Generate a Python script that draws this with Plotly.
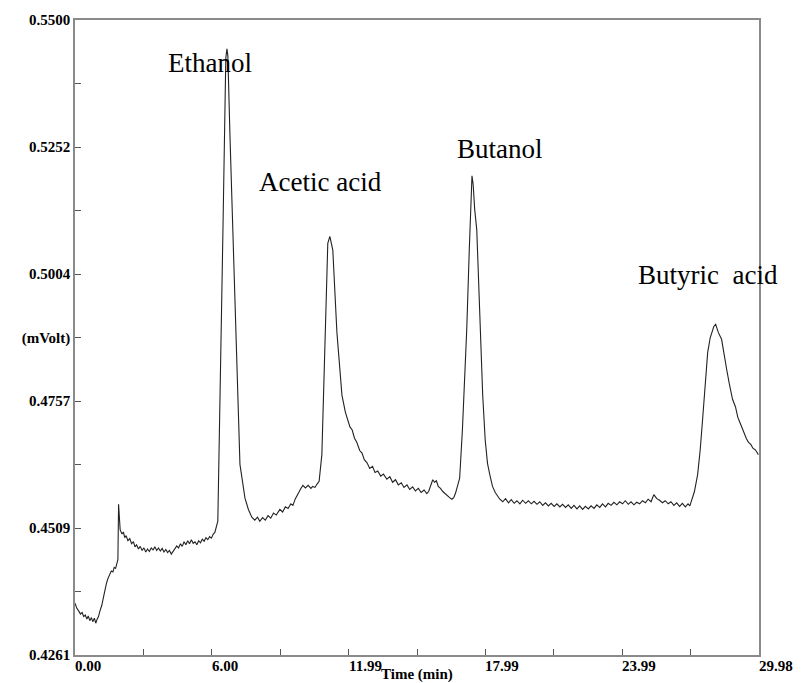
import plotly.graph_objects as go

# ---- data (time in min, signal in mVolt) ----
time_min = [
    0.00, 0.08, 0.16, 0.24, 0.31, 0.38, 0.45, 0.52, 0.58, 0.65, 0.72, 0.78, 0.85, 0.91, 0.97,
    1.03, 1.10, 1.17, 1.24, 1.31, 1.38, 1.45, 1.52, 1.59, 1.66, 1.72, 1.78, 1.84, 1.88, 1.91,
    1.94, 1.98, 2.06, 2.12, 2.18, 2.24, 2.32, 2.40, 2.48, 2.56, 2.63, 2.70, 2.78, 2.86, 2.94,
    3.02, 3.10, 3.18, 3.26, 3.34, 3.42, 3.50, 3.58, 3.66, 3.74, 3.82, 3.90, 3.98, 4.06, 4.14,
    4.22, 4.30, 4.38, 4.46, 4.54, 4.62, 4.70, 4.78, 4.86, 4.94, 5.02, 5.10, 5.18, 5.26, 5.34,
    5.42, 5.50, 5.58, 5.66, 5.74, 5.82, 5.90, 5.98, 6.06, 6.13, 6.20, 6.26, 6.48, 6.61, 6.66,
    6.70, 6.79, 7.01, 7.23, 7.45, 7.60, 7.75, 7.88, 8.00, 8.10, 8.22, 8.34, 8.46, 8.58, 8.70,
    8.82, 8.98, 9.10, 9.22, 9.34, 9.46, 9.55, 9.66, 9.78, 9.90, 9.99, 10.10, 10.22, 10.34, 10.42,
    10.52, 10.60, 10.70, 10.82, 10.95, 11.08, 11.17, 11.30, 11.48, 11.70, 11.85, 11.95, 12.05, 12.15, 12.25,
    12.35, 12.48, 12.58, 12.68, 12.80, 12.92, 13.04, 13.15, 13.27, 13.40, 13.52, 13.67, 13.80, 13.92, 14.05,
    14.17, 14.30, 14.42, 14.55, 14.67, 14.80, 14.92, 15.05, 15.17, 15.30, 15.42, 15.50, 15.60, 15.68, 15.76,
    15.84, 15.92, 16.02, 16.12, 16.22, 16.32, 16.42, 16.52, 16.60, 16.68, 16.76, 16.86, 16.98, 17.08, 17.17,
    17.28, 17.36, 17.40, 17.45, 17.52, 17.61, 17.74, 17.87, 17.98, 18.08, 18.18, 18.30, 18.42, 18.52, 18.62,
    18.75, 18.87, 19.00, 19.12, 19.25, 19.37, 19.50, 19.62, 19.75, 19.87, 20.00, 20.12, 20.25, 20.37, 20.50,
    20.62, 20.75, 20.87, 21.00, 21.12, 21.25, 21.37, 21.50, 21.62, 21.75, 21.87, 22.00, 22.12, 22.25, 22.37,
    22.50, 22.62, 22.75, 22.87, 23.00, 23.12, 23.25, 23.37, 23.50, 23.62, 23.75, 23.87, 24.00, 24.12, 24.25,
    24.37, 24.50, 24.62, 24.75, 24.87, 25.00, 25.12, 25.25, 25.37, 25.50, 25.62, 25.75, 25.87, 26.00, 26.12,
    26.25, 26.37, 26.50, 26.62, 26.75, 26.87, 26.95, 27.05, 27.15, 27.29, 27.40, 27.51, 27.62, 27.73, 27.84,
    27.94, 28.00, 28.08, 28.14, 28.20, 28.34, 28.45, 28.56, 28.68, 28.82, 28.95, 29.05, 29.13, 29.22, 29.30,
    29.43, 29.52, 29.62, 29.72, 29.80, 29.87, 29.95,
]
signal_mv = [
    0.4362, 0.4352, 0.4347, 0.4341, 0.4344, 0.4336, 0.4339, 0.4331, 0.4337, 0.4328, 0.4334, 0.4326, 0.4333, 0.4323, 0.4331,
    0.4336, 0.4348, 0.4357, 0.4372, 0.4389, 0.4401, 0.4411, 0.4418, 0.4425, 0.4423, 0.4432, 0.4430, 0.4438, 0.4447, 0.4555,
    0.4520, 0.4505, 0.4497, 0.4501, 0.4490, 0.4494, 0.4484, 0.4488, 0.4478, 0.4482, 0.4472, 0.4476, 0.4468, 0.4473, 0.4465,
    0.4470, 0.4462, 0.4468, 0.4463, 0.4470, 0.4466, 0.4472, 0.4465, 0.4470, 0.4464, 0.4469, 0.4462, 0.4467, 0.4461, 0.4465,
    0.4458, 0.4464, 0.4468, 0.4474, 0.4470, 0.4478, 0.4473, 0.4482, 0.4476, 0.4484, 0.4478, 0.4486, 0.4479, 0.4482, 0.4476,
    0.4484, 0.4480, 0.4487, 0.4483, 0.4490, 0.4486, 0.4492, 0.4489, 0.4497, 0.4500, 0.4512, 0.4522, 0.5078, 0.5426, 0.5444,
    0.5430, 0.5277, 0.4954, 0.4633, 0.4567, 0.4545, 0.4530, 0.4524, 0.4530, 0.4522, 0.4529, 0.4524, 0.4533, 0.4528, 0.4538,
    0.4534, 0.4545, 0.4540, 0.4550, 0.4547, 0.4556, 0.4553, 0.4566, 0.4577, 0.4586, 0.4592, 0.4587, 0.4592, 0.4586, 0.4590,
    0.4588, 0.4594, 0.4600, 0.4652, 0.4846, 0.5064, 0.5078, 0.5051, 0.4890, 0.4768, 0.4735, 0.4722, 0.4706, 0.4700, 0.4684,
    0.4676, 0.4660, 0.4655, 0.4642, 0.4636, 0.4625, 0.4629, 0.4617, 0.4620, 0.4610, 0.4614, 0.4604, 0.4609, 0.4598, 0.4603,
    0.4593, 0.4597, 0.4588, 0.4593, 0.4584, 0.4589, 0.4581, 0.4586, 0.4578, 0.4583, 0.4576, 0.4580, 0.4592, 0.4603, 0.4598,
    0.4601, 0.4590, 0.4586, 0.4580, 0.4576, 0.4571, 0.4568, 0.4565, 0.4568, 0.4577, 0.4590, 0.4606, 0.4700, 0.4800, 0.4896,
    0.5050, 0.5170, 0.5196, 0.5180, 0.5130, 0.5090, 0.4930, 0.4768, 0.4680, 0.4635, 0.4613, 0.4590, 0.4578, 0.4570, 0.4565,
    0.4560, 0.4566, 0.4558, 0.4564, 0.4557, 0.4562, 0.4556, 0.4563, 0.4557, 0.4562, 0.4556, 0.4561, 0.4555, 0.4560, 0.4553,
    0.4558, 0.4552, 0.4557, 0.4551, 0.4556, 0.4550, 0.4555, 0.4549, 0.4554, 0.4547, 0.4553, 0.4546, 0.4552, 0.4545, 0.4551,
    0.4546, 0.4552, 0.4547, 0.4554, 0.4549, 0.4556, 0.4550, 0.4557, 0.4553, 0.4559, 0.4554, 0.4560, 0.4556, 0.4562, 0.4555,
    0.4560, 0.4554, 0.4559, 0.4556, 0.4562, 0.4558, 0.4565, 0.4560, 0.4574, 0.4566, 0.4563, 0.4558, 0.4562, 0.4556, 0.4560,
    0.4553, 0.4558, 0.4551, 0.4557, 0.4550, 0.4556, 0.4552, 0.4565, 0.4580, 0.4613, 0.4660, 0.4722, 0.4790, 0.4851, 0.4880,
    0.4896, 0.4902, 0.4906, 0.4898, 0.4890, 0.4877, 0.4845, 0.4819, 0.4790, 0.4760, 0.4745, 0.4725, 0.4716, 0.4705, 0.4698,
    0.4683, 0.4676, 0.4672, 0.4664, 0.4662, 0.4658, 0.4652,
]

peak_names = ["Ethanol", "Acetic acid", "Butanol", "Butyric  acid"]
peak_label_x = [5.91, 10.78, 18.62, 27.73]
peak_label_y = [0.5417, 0.5184, 0.5248, 0.5002]

x_tick_vals = [0.0, 2.998, 5.996, 8.994, 11.992, 14.99, 17.988, 20.986, 23.984, 26.982, 29.98]
x_tick_text = ["0.00", "", "6.00", "", "11.99", "", "17.99", "", "23.99", "", "29.98"]
y_tick_vals = [0.4261, 0.43849, 0.45088, 0.46327, 0.47566, 0.48805, 0.50044, 0.51283, 0.52522, 0.53761, 0.5500]
y_tick_text = ["0.4261", "", "0.4509", "", "0.4757", "(mVolt)", "0.5004", "", "0.5252", "", "0.5500"]
x_title = "Time (min)"
x_title_pos = 14.99

SERIF = "Liberation Serif, Times New Roman, serif"

fig = go.Figure()
fig.add_trace(go.Scatter(
    x=time_min, y=signal_mv, mode="lines",
    line=dict(color="#222222", width=1.1), hoverinfo="skip", showlegend=False,
))

annotations = []
for name, px, py in zip(peak_names, peak_label_x, peak_label_y):
    annotations.append(dict(x=px, y=py, xref="x", yref="y", text=name, showarrow=False,
                            xanchor="center", yanchor="middle",
                            font=dict(family=SERIF, size=27, color="black")))
for v, t in zip(x_tick_vals, x_tick_text):
    if t:
        annotations.append(dict(x=v, y=0, xref="x", yref="paper", text=t, showarrow=False,
                                xanchor="left", yanchor="top", xshift=-2, yshift=-1,
                                font=dict(family=SERIF, size=15, color="black", weight="bold")))
annotations.append(dict(x=x_title_pos, y=0, xref="x", yref="paper", text=x_title, showarrow=False,
                        xanchor="center", yanchor="top", yshift=-9,
                        font=dict(family=SERIF, size=15, color="black", weight="bold")))

fig.update_layout(
    width=801, height=683,
    margin=dict(l=75, r=42, t=15, b=28),
    paper_bgcolor="white", plot_bgcolor="white",
    annotations=annotations,
    xaxis=dict(range=[0, 29.98], tickvals=x_tick_vals, ticktext=[""] * len(x_tick_vals),
               ticks="inside", ticklen=6, tickcolor="#555", tickwidth=1,
               showline=True, linecolor="#8a8a8a", linewidth=1.5, mirror=True,
               showgrid=False, zeroline=False),
    yaxis=dict(range=[0.4261, 0.5500], tickvals=y_tick_vals, ticktext=y_tick_text,
               ticks="inside", ticklen=6, tickcolor="#555", tickwidth=1,
               tickfont=dict(family=SERIF, size=15, color="black", weight="bold"),
               showline=True, linecolor="#8a8a8a", linewidth=1.5, mirror=True,
               showgrid=False, zeroline=False),
)

fig.write_html("out.html")
